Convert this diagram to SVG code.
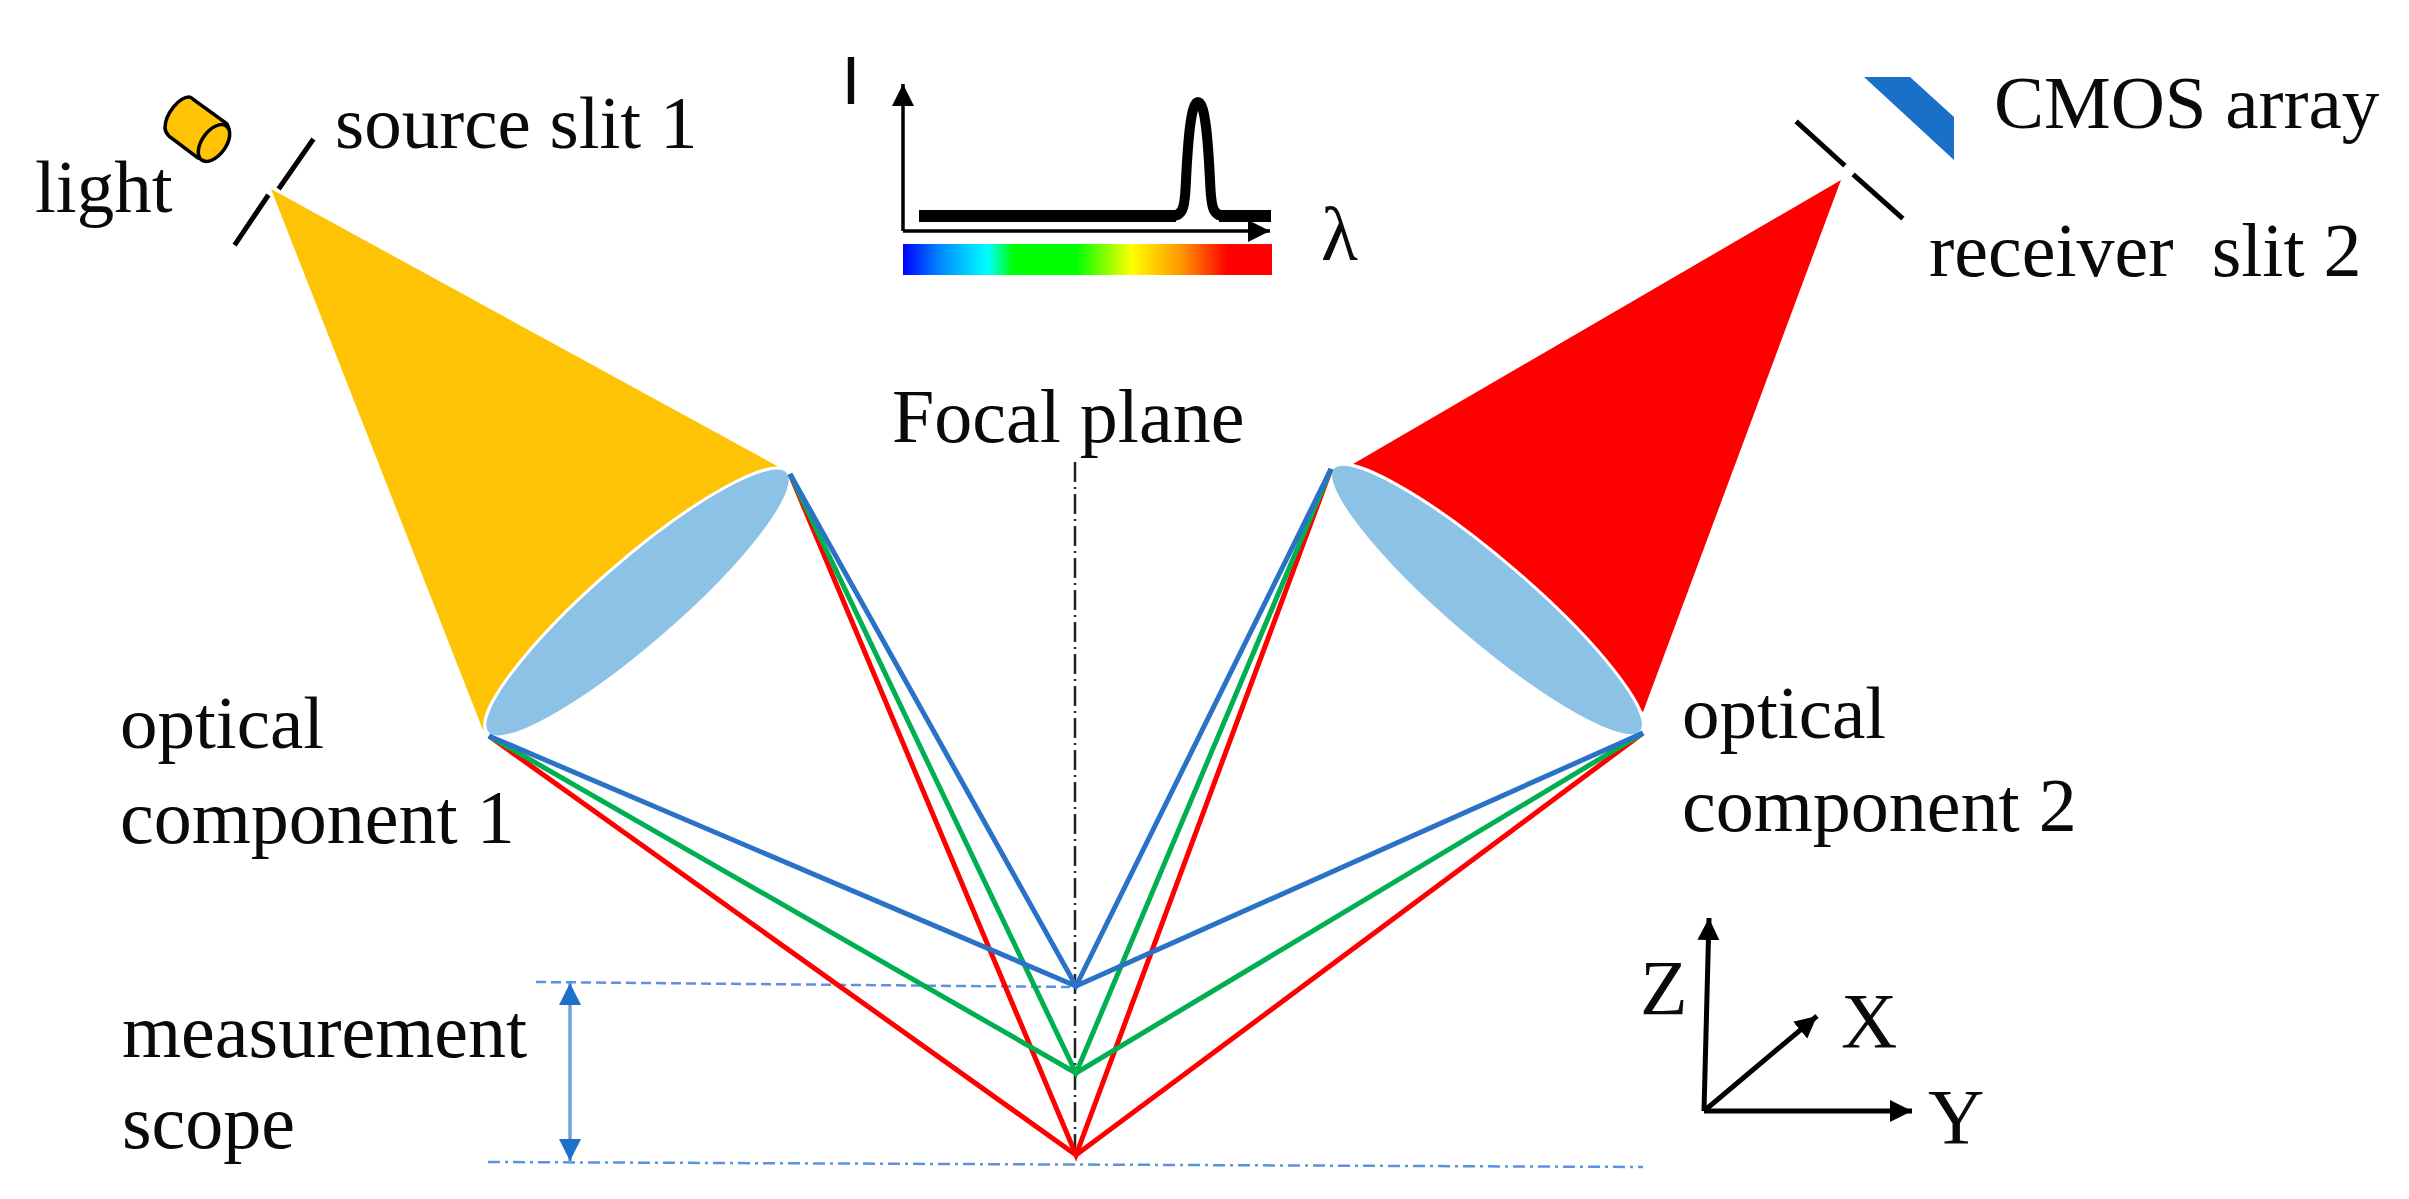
<svg xmlns="http://www.w3.org/2000/svg" width="2409" height="1199" viewBox="0 0 2409 1199">
<style>
text{font-family:"Liberation Serif","Times New Roman",serif;font-size:75px;fill:#0a0a0a}
.big{font-size:76px}
.slit{stroke:#000;stroke-width:5;stroke-linecap:square;fill:none}
.ray{fill:none;stroke-width:5;stroke-linejoin:miter}
.r{stroke:#ff0000}.g{stroke:#00b050}.b{stroke:#2a72c8}
.lens{fill:#8cc2e6;stroke:#fff;stroke-width:3}
.guide{fill:none;stroke:#5b93dc;stroke-width:2.5}
.ax{fill:none;stroke:#000;stroke-width:5}
</style>
<defs>
<linearGradient id="spec" x1="0" x2="1" y1="0" y2="0">
<stop offset="0" stop-color="#0000ff"/><stop offset="0.1" stop-color="#0088ff"/><stop offset="0.23" stop-color="#00ffff"/><stop offset="0.3" stop-color="#00ff00"/><stop offset="0.47" stop-color="#00ff00"/><stop offset="0.62" stop-color="#ffff00"/><stop offset="0.76" stop-color="#ff9000"/><stop offset="0.88" stop-color="#ff0000"/><stop offset="1" stop-color="#ff0000"/>
</linearGradient>
<marker id="ah" markerUnits="userSpaceOnUse" markerWidth="24" markerHeight="24" refX="22" refY="11" orient="auto"><path d="M0,0L22,11L0,22Z" fill="#000"/></marker>
<marker id="ahb" markerUnits="userSpaceOnUse" markerWidth="24" markerHeight="24" refX="22" refY="11" orient="auto-start-reverse"><path d="M0,0L22,11L0,22Z" fill="#1f70c8"/></marker>
</defs>
<rect width="2409" height="1199" fill="#fff"/>
<g id="beam-1"><polygon points="271,189 779,467 483,730" fill="#ffc305"/></g>
<g id="beam-2"><polygon points="1841,180 1353,464 1643,712" fill="#ff0000"/></g>
<g id="lens-1"><ellipse class="lens" cx="637.5" cy="602.5" rx="199" ry="42" transform="rotate(-41 637.5 602.5)"/></g>
<g id="lens-2"><ellipse class="lens" cx="1487" cy="600" rx="203" ry="41" transform="rotate(40.6 1487 600)"/></g>
<g id="connectors">
<path class="guide" stroke-dasharray="10 5" d="M536,982L1070,987"/>
<path class="guide" stroke-dasharray="12 5 3 5" d="M488,1162L1643,1167"/>
<path d="M1075,462V1152" fill="none" stroke="#222" stroke-width="2.5" stroke-dasharray="20 5 2 5"/>
<path d="M570,983V1161" fill="none" stroke="#6aa3de" stroke-width="3.5" marker-start="url(#ahb)" marker-end="url(#ahb)"/>
<polyline class="ray r" points="489,736 1076,1155 1643,733"/>
<polyline class="ray r" points="790,474 1076,1155 1331,469"/>
<polyline class="ray g" points="489,736 1076,1073 1643,733"/>
<polyline class="ray g" points="790,474 1076,1073 1331,469"/>
<polyline class="ray b" points="489,736 1076,986 1643,733"/>
<polyline class="ray b" points="790,474 1076,986 1331,469"/>
</g>
<g id="light-source">
<path d="M189,97C180,97 165,113 165,128C165,133 168,135 170,137L198,158C206,162 229,150 229,132C229,128 228,125 226,123L194,100C192,98 191,97 189,97Z" fill="#ffc305" stroke="#000" stroke-width="3.5"/>
<ellipse cx="214" cy="143" rx="12" ry="21" transform="rotate(36 214 143)" fill="#ffc305" stroke="#000" stroke-width="3.5"/>
<text x="35" y="212">light</text>
</g>
<g id="slit-1">
<path class="slit" d="M312,141L280,187M267,197L236,243"/>
<text x="335" y="148">source slit 1</text>
</g>
<g id="slit-2">
<path class="slit" d="M1798,123L1843,164M1855,176L1901,217"/>
<text class="big" x="1929" y="276" xml:space="preserve">receiver  slit 2</text>
</g>
<g id="cmos">
<polygon points="1864,77 1910,77 1954,117 1954,160" fill="#1a70c8"/>
<text x="1994" y="128">CMOS array</text>
</g>
<g id="spectrum">
<text x="851" y="104" text-anchor="middle" style="font-family:'Liberation Sans',Arial,sans-serif;font-size:68px">I</text>
<path d="M903,231V84" fill="none" stroke="#000" stroke-width="3.5" marker-end="url(#ah)"/>
<path d="M903,231H1270" fill="none" stroke="#000" stroke-width="3.5" marker-end="url(#ah)"/>
<path d="M919,216H1176M1219,216H1271" fill="none" stroke="#000" stroke-width="12"/>
<path d="M1172,216C1184,216 1185,205 1186,180C1188,140 1191,102 1198,102C1205,102 1208,140 1210,180C1211,205 1212,216 1224,216" fill="none" stroke="#000" stroke-width="10"/>
<rect x="903" y="244" width="369" height="31" fill="url(#spec)"/>
<text x="1321" y="260" style="font-size:76px">λ</text>
</g>
<g id="focal-plane"><text class="big" x="892" y="442">Focal plane</text></g>
<g id="label-1"><text x="120" y="748">optical</text><text class="big" x="120" y="843">component 1</text></g>
<g id="label-2"><text x="1682" y="738">optical</text><text class="big" x="1682" y="831">component 2</text></g>
<g id="scope-label"><text class="big" x="122" y="1057">measurement</text><text class="big" x="122" y="1148">scope</text></g>
<g id="axes">
<path class="ax" d="M1704,1111L1709,918" marker-end="url(#ah)"/>
<path class="ax" d="M1704,1111H1912" marker-end="url(#ah)"/>
<path class="ax" d="M1704,1111L1817,1016" marker-end="url(#ah)"/>
<text class="big" x="1640" y="1014" style="font-size:78px">Z</text>
<text x="1841" y="1047" style="font-size:78px">X</text>
<text x="1928" y="1143" style="font-size:78px">Y</text>
</g>
</svg>
